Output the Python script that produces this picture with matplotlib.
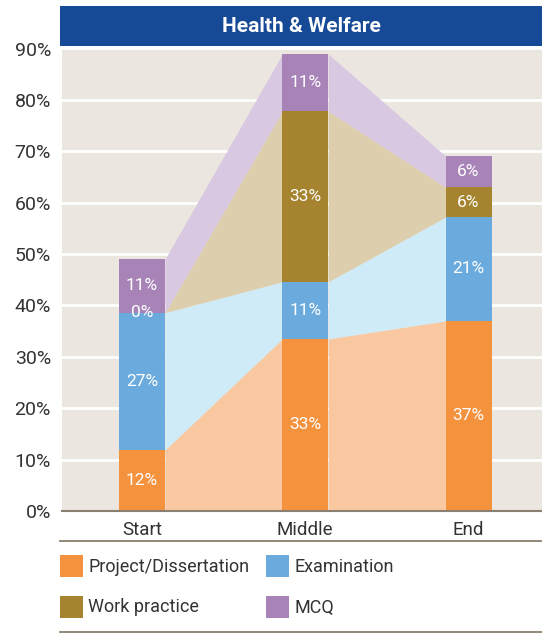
import matplotlib
matplotlib.use("Agg")
import matplotlib.pyplot as plt
from matplotlib.patches import Rectangle
import numpy as np

plt.rcParams['font.family'] = ['Roboto', 'DejaVu Sans']

stages = ["Start", "Middle", "End"]
series = ["Project/Dissertation", "Examination", "Work practice", "MCQ"]
project = [11.9, 33.5, 37.0]
examination = [26.7, 11.1, 20.2]
work_practice = [0.0, 33.2, 5.8]
mcq = [10.4, 11.1, 6.1]
labels = {
    "Project/Dissertation": ["12%", "33%", "37%"],
    "Examination": ["27%", "11%", "21%"],
    "Work practice": ["0%", "33%", "6%"],
    "MCQ": ["11%", "11%", "6%"],
}
yticks = [0, 10, 20, 30, 40, 50, 60, 70, 80, 90]

dark_colors = ["#f4923e", "#6aaadc", "#a5832f", "#a883b8"]
light_colors = ["#f9c8a0", "#d0ebf8", "#ddcfad", "#d8c8e2"]

W, H = 542, 633
fig = plt.figure(figsize=(W / 100, H / 100), dpi=100)

ax_left, ax_right, ax_top, ax_bot = 62, 542, 48.5, 511
ax = fig.add_axes([ax_left / W, 1 - ax_bot / H, (ax_right - ax_left) / W, (ax_bot - ax_top) / H])
ax.set_facecolor("#ebe6df")

x = np.arange(len(stages))
bw = 0.282
hw = bw / 2
data = [project, examination, work_practice, mcq]

# connecting areas
cum = np.zeros(len(stages))
for vals, lc in zip(data, light_colors):
    bottom = cum.copy()
    top = cum + np.array(vals)
    for i in range(len(stages) - 1):
        ax.fill_between([x[i] + hw, x[i + 1] - hw], [bottom[i], bottom[i + 1]],
                        [top[i], top[i + 1]], color=lc, linewidth=0, zorder=2)
    cum = top

cum = np.zeros(len(stages))
for name, vals, dc in zip(series, data, dark_colors):
    ax.bar(x, vals, bw, bottom=cum, color=dc, linewidth=0, zorder=3)
    for i, v in enumerate(vals):
        yc = cum[i] + v / 2
        if v < 1:
            yc = cum[i] + 0.1
        ax.text(x[i], yc, labels[name][i], ha="center", va="center",
                color="white", fontsize=12.5, zorder=4)
    cum = cum + np.array(vals)

ax.set_ylim(0, 90)
ax.set_xlim(-0.49, 2.45)
ax.set_yticks(yticks)
ax.set_yticklabels([f"{t}%" for t in yticks], fontsize=14, color="#333333")
ax.set_xticks(x)
ax.set_xticklabels(stages, fontsize=13.5, color="#333333")
ax.tick_params(axis="both", length=0)
ax.tick_params(axis="y", pad=8)
ax.tick_params(axis="x", pad=7)
ax.grid(axis="y", color="white", linewidth=2, zorder=1)
ax.set_axisbelow(True)
for s in ["top", "right", "left"]:
    ax.spines[s].set_visible(False)
ax.spines["bottom"].set_color("#8a7f70")
ax.spines["bottom"].set_linewidth(1.5)
ax.spines["bottom"].set_zorder(5)

# title bar
fig.patches.append(Rectangle((60 / W, 1 - 46 / H), (542 - 60) / W, 40 / H,
                             transform=fig.transFigure, facecolor="#174a96",
                             edgecolor="none", zorder=0))
fig.text((60 + 542) / 2 / W, 1 - 26.5 / H, "Health & Welfare", ha="center", va="center",
         color="white", fontsize=15, fontweight="bold")

# separator lines
for yl in [540.5, 631.5]:
    fig.add_artist(plt.Line2D([60 / W, 1], [1 - yl / H, 1 - yl / H], transform=fig.transFigure,
                              color="#8a7f70", linewidth=1.3))

# legend
leg_pos = [(60, 555), (266, 555), (60, 596), (266, 596)]
for (lx, ly), name, dc in zip(leg_pos, series, dark_colors):
    fig.patches.append(Rectangle((lx / W, 1 - (ly + 22) / H), 23 / W, 22 / H,
                                 transform=fig.transFigure, facecolor=dc, edgecolor="none"))
    fig.text((lx + 28) / W, 1 - (ly + 11.5) / H, name, ha="left", va="center",
             fontsize=13, color="#333333")

fig.savefig("out.png", dpi=100)
